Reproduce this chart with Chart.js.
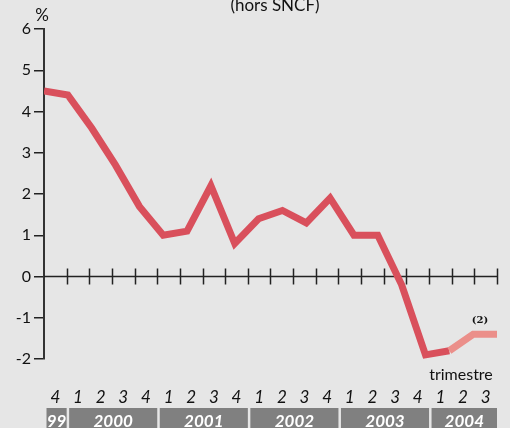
<!DOCTYPE html>
<html>
<head>
<meta charset="utf-8">
<script src="https://cdn.jsdelivr.net/npm/chart.js@4"></script>
<style>
  body { margin: 0; background: #e6e6e6; }
  canvas { display: block; }
</style>
</head>
<body>
<canvas id="chart" width="510" height="428"></canvas>
<script>
// données
const quarterLabels = ['4', '1', '2', '3', '4', '1', '2', '3', '4', '1', '2', '3', '4', '1', '2', '3', '4', '1', '2', '3'];
const yearLabels = ['99', '2000', '2001', '2002', '2003', '2004'];
const quartersPerYear = [1, 4, 4, 4, 4, 3];
const growth = [4.5, 4.4, 3.6, 2.7, 1.7, 1.0, 1.1, 2.2, 0.8, 1.4, 1.6, 1.3, 1.9, 1.0, 1.0, -0.2, -1.9, -1.8, -1.4, -1.4];
const provisionalFrom = 17; // à partir du 2e trimestre 2004 : (2)

const RED = '#d9505c';
const PINK = '#eb8f8a';
const FONT = 'Lato, "DejaVu Sans", sans-serif';

// axe du zéro avec graduations + bandeau des années + textes
const decorPlugin = {
    id: 'decor',
    beforeDatasetsDraw(chart) {
        const ctx = chart.ctx;
        const q = chart.scales.q;
        const y0 = chart.scales.y.getPixelForValue(0);
        const step = q.getPixelForValue(1) - q.getPixelForValue(0);
        const start = q.getPixelForValue(0) - step / 2;
        ctx.save();
        ctx.strokeStyle = '#222';
        ctx.lineWidth = 1.5;
        ctx.beginPath();
        ctx.moveTo(start, y0);
        ctx.lineTo(start + step * quarterLabels.length, y0);
        for (let i = 1; i <= quarterLabels.length; i++) {
            const x = Math.round(start + step * i) + 0.5;
            ctx.moveTo(x, y0 - 8);
            ctx.lineTo(x, y0 + 8);
        }
        ctx.stroke();
        ctx.restore();
    },
    afterDraw(chart) {
        const ctx = chart.ctx;
        const q = chart.scales.q;
        const step = q.getPixelForValue(1) - q.getPixelForValue(0);
        const start = q.getPixelForValue(0) - step / 2;
        ctx.save();
        // bandeau des années
        let idx = 0;
        yearLabels.forEach((yr, k) => {
            const x1 = start + step * idx + 2.5;
            const x2 = start + step * (idx + quartersPerYear[k]);
            ctx.fillStyle = '#808080';
            ctx.fillRect(x1, 408, x2 - x1, 20);
            ctx.fillStyle = '#fff';
            ctx.font = 'italic bold 17px ' + FONT;
            ctx.textAlign = 'center';
            ctx.textBaseline = 'alphabetic';
            ctx.fillText(yr, (x1 + x2) / 2, 427);
            idx += quartersPerYear[k];
        });

        ctx.fillStyle = '#111';
        ctx.font = '17px ' + FONT;
        ctx.textAlign = 'center';
        ctx.fillText('(hors SNCF)', 275, 11);
        ctx.fillText('%', 42, 21);
        ctx.font = '16px ' + FONT;
        ctx.fillText('trimestre', 461, 380);
        ctx.font = 'bold 10px "DejaVu Serif", serif';
        ctx.fillText('(2)', 480, 323);
        ctx.restore();
    }
};

new Chart(document.getElementById('chart'), {
    type: 'line',
    data: {
        datasets: [{
            data: growth.map((v, i) => ({ x: i, y: v })),
            xAxisID: 'x',
            yAxisID: 'y',
            borderColor: RED,
            borderWidth: 7,
            borderCapStyle: 'butt',
            borderJoinStyle: 'miter',
            tension: 0,
            pointRadius: 0,
            segment: {
                borderColor: c => c.p0DataIndex >= provisionalFrom ? PINK : RED
            }
        }]
    },
    options: {
        responsive: false,
        devicePixelRatio: 1,
        animation: false,
        layout: { padding: { top: 29, right: 13, left: 0, bottom: 0 } },
        plugins: { legend: { display: false }, tooltip: { enabled: false } },
        scales: {
            x: { type: 'linear', min: 0, max: growth.length - 1, display: false },
            q: {
                type: 'category',
                labels: quarterLabels,
                position: 'bottom',
                offset: true,
                grid: { display: false, drawTicks: false },
                border: { display: false },
                ticks: {
                    color: '#111',
                    font: { family: FONT, size: 17, style: 'italic' },
                    padding: 28,
                    maxRotation: 0,
                    autoSkip: false
                },
                afterFit: s => { s.height = 69; s.paddingLeft = 0; s.paddingRight = 0; }
            },
            y: {
                min: -2,
                max: 6,
                ticks: {
                    stepSize: 1,
                    color: '#111',
                    padding: 3,
                    font: { family: FONT, size: 16 }
                },
                grid: { drawOnChartArea: false, drawTicks: true, tickLength: 10, color: '#222', lineWidth: 1.5 },
                border: { display: true, color: '#333', width: 2 },
                afterFit: s => { s.width = 44; s.paddingTop = 0; s.paddingBottom = 0; }
            }
        }
    },
    plugins: [decorPlugin]
});
</script>
</body>
</html>
